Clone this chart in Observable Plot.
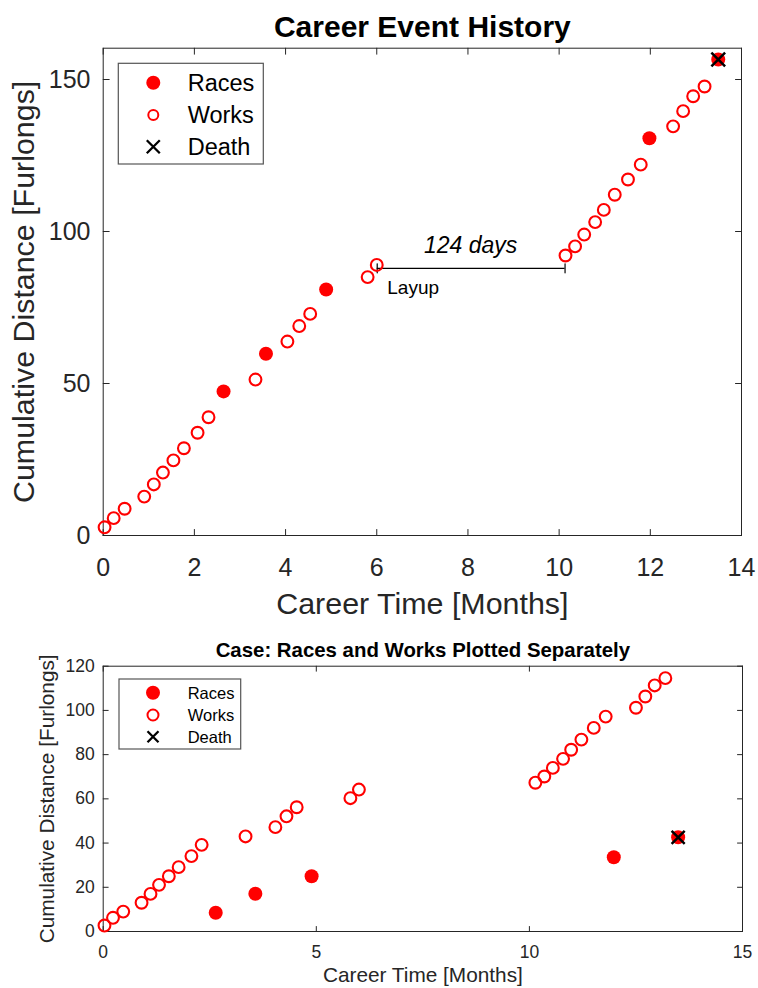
<!DOCTYPE html>
<html>
<head>
<meta charset="utf-8">
<script src="https://cdn.jsdelivr.net/npm/d3@7"></script>
<script src="https://cdn.jsdelivr.net/npm/@observablehq/plot@0.6"></script>
<style>
  html, body { margin: 0; padding: 0; background: #fff; }
  #page { position: relative; width: 758px; height: 988px; overflow: hidden; background: #fff; }
  .chart { position: absolute; left: 0; }
  #overlay { position: absolute; left: 0; top: 0; pointer-events: none; }
</style>
</head>
<body>
<div id="page">
  <div id="top" class="chart" style="top:0px"></div>
  <div id="bottom" class="chart" style="top:630px"></div>
  <svg id="overlay" width="758" height="988"></svg>
</div>
<script>
// ---------------- data ----------------
// event times in months
const workMonths = [0.03, 0.23, 0.47, 0.90, 1.11, 1.31, 1.54, 1.77, 2.07, 2.31,
                    3.34, 4.04, 4.30, 4.54, 5.80, 6.00,
                    10.14, 10.35, 10.55, 10.79, 10.98, 11.22, 11.51, 11.79,
                    12.50, 12.72, 12.94, 13.19];
const raceMonths = [2.64, 3.57, 4.89, 11.98, 13.49];
const deathMonth = [13.49];

// top chart: cumulative distance of all events combined (furlongs)
const workCumAll = [2.7, 5.7, 8.8, 12.8, 16.8, 20.7, 24.7, 28.7, 33.8, 38.9,
                    51.3, 63.8, 68.9, 72.9, 85.0, 89.0,
                    92.1, 95.1, 99.0, 103.1, 107.1, 112.1, 117.1, 122.0,
                    134.6, 139.6, 144.5, 147.7];
const raceCumAll = [47.4, 59.8, 80.9, 130.7, 156.6];
const deathCumAll = [156.6];

// bottom chart: races and works accumulated separately (furlongs)
const workCumSep = [2.7, 6.2, 9.0, 13.0, 17.0, 21.1, 25.0, 29.1, 34.1, 39.2,
                    43.0, 47.2, 52.1, 56.2, 60.3, 64.2,
                    67.3, 70.1, 74.0, 78.1, 82.2, 86.8, 92.1, 97.2,
                    101.2, 106.3, 111.3, 114.6];
const raceCumSep = [8.5, 17.1, 25.0, 33.6, 42.6];
const deathCumSep = [42.6];

// layup annotation (top chart)
const layupFrom = [6.01];
const layupTo = [10.13];
const layupLevel = [87.9];
const gapLabel = ["124 days"];
const gapLabelX = [8.06];
const gapLabelY = [93.0];
const layupLabel = ["Layup"];
const layupLabelX = [6.23];
const layupLabelY = [79.5];

// ticks
const topXTicks = [0, 2, 4, 6, 8, 10, 12, 14];
const topYTicks = [0, 50, 100, 150];
const botXTicks = [0, 5, 10, 15];
const botYTicks = [0, 20, 40, 60, 80, 100, 120];

// texts
const topTitle = ["Career Event History"];
const botTitle = ["Case: Races and Works Plotted Separately"];
const xLabel = ["Career Time [Months]"];
const yLabel = ["Cumulative Distance [Furlongs]"];
const legendLabels = ["Races", "Works", "Death"];

// ---------------- drawing ----------------
const FONT = "'Liberation Sans', Arial, Helvetica, sans-serif";
const AX = "#262626";
const RED = "#ff0000";
const tickShape = {draw(ctx, l) { ctx.moveTo(0, 0); ctx.lineTo(0, -l); }};

function inwardTicks(xt, yt, len) {
  const o = {length: len, anchor: "start", shape: tickShape, stroke: AX, strokeWidth: 1};
  return [
    Plot.vector(xt, {...o, x: d => d, frameAnchor: "bottom", rotate: 0}),
    Plot.vector(xt, {...o, x: d => d, frameAnchor: "top", rotate: 180}),
    Plot.vector(yt, {...o, y: d => d, frameAnchor: "left", rotate: 90}),
    Plot.vector(yt, {...o, y: d => d, frameAnchor: "right", rotate: -90})
  ];
}

const topChart = Plot.plot({
  width: 758, height: 620,
  marginTop: 47.7, marginRight: 17, marginBottom: 85, marginLeft: 102.7,
  style: {fontFamily: FONT, background: "white", color: AX, overflow: "visible"},
  x: {domain: [0, 14]},
  y: {domain: [0, 160.3]},
  marks: [
    Plot.frame({stroke: AX, strokeWidth: 1}),
    ...inwardTicks(topXTicks, topYTicks, 6),
    Plot.axisX(topXTicks, {anchor: "bottom", tickSize: 0, tickPadding: 22.3, fontSize: 25, label: null, fill: AX}),
    Plot.axisY(topYTicks, {anchor: "left", tickSize: 0, tickPadding: 12.7, fontSize: 25, label: null, fill: AX}),
    Plot.ruleY(layupLevel, {y: d => d, x1: layupFrom[0], x2: layupTo[0], stroke: "black", strokeWidth: 1.2}),
    Plot.vector([layupFrom[0], layupTo[0]], {x: d => d, y: layupLevel[0], length: 9, anchor: "middle", shape: tickShape, stroke: "black", strokeWidth: 1.2}),
    Plot.text(gapLabel, {x: gapLabelX, y: gapLabelY, text: d => d, fontSize: 23, fontStyle: "italic", lineAnchor: "bottom", textAnchor: "middle", fill: "black"}),
    Plot.text(layupLabel, {x: layupLabelX, y: layupLabelY, text: d => d, fontSize: 19, lineAnchor: "bottom", textAnchor: "start", fill: "black"}),
    Plot.dot(workMonths, {x: d => d, y: (d, i) => workCumAll[i], r: 5.9, fill: "none", stroke: RED, strokeWidth: 2.1}),
    Plot.dot(raceMonths, {x: d => d, y: (d, i) => raceCumAll[i], r: 7, fill: RED, stroke: "none"}),
    Plot.dot(deathMonth, {x: d => d, y: (d, i) => deathCumAll[i], r: 6.3, symbol: "times", stroke: "black", strokeWidth: 2.5}),
    Plot.text(topTitle, {frameAnchor: "top", text: d => d, dy: -11.7, lineAnchor: "bottom", textAnchor: "middle", fontSize: 30, fontWeight: "bold", fill: "black"}),
    Plot.text(xLabel, {frameAnchor: "bottom", text: d => d, dy: 78.3, lineAnchor: "bottom", textAnchor: "middle", fontSize: 30.4, fill: AX}),
    Plot.text(yLabel, {frameAnchor: "left", text: d => d, dx: -69.4, rotate: -90, lineAnchor: "bottom", textAnchor: "middle", fontSize: 30.4, fill: AX})
  ]
});
document.getElementById("top").appendChild(topChart);

const botChart = Plot.plot({
  width: 758, height: 358,
  marginTop: 35.7, marginRight: 16, marginBottom: 57, marginLeft: 102.7,
  style: {fontFamily: FONT, background: "white", color: AX, overflow: "visible"},
  x: {domain: [0, 15]},
  y: {domain: [0, 120]},
  marks: [
    Plot.frame({stroke: AX, strokeWidth: 1}),
    ...inwardTicks(botXTicks, botYTicks, 5),
    Plot.axisX(botXTicks, {anchor: "bottom", tickSize: 0, tickPadding: 14, fontSize: 17.5, label: null, fill: AX}),
    Plot.axisY(botYTicks, {anchor: "left", tickSize: 0, tickPadding: 8.4, fontSize: 17.5, label: null, fill: AX}),
    Plot.dot(workMonths, {x: d => d, y: (d, i) => workCumSep[i], r: 5.9, fill: "none", stroke: RED, strokeWidth: 2.1}),
    Plot.dot(raceMonths, {x: d => d, y: (d, i) => raceCumSep[i], r: 7, fill: RED, stroke: "none"}),
    Plot.dot(deathMonth, {x: d => d, y: (d, i) => deathCumSep[i], r: 6, symbol: "times", stroke: "black", strokeWidth: 2.5}),
    Plot.text(botTitle, {frameAnchor: "top", text: d => d, dy: -9, lineAnchor: "bottom", textAnchor: "middle", fontSize: 20.4, fontWeight: "bold", fill: "black"}),
    Plot.text(xLabel, {frameAnchor: "bottom", text: d => d, dy: 50.7, lineAnchor: "bottom", textAnchor: "middle", fontSize: 20.8, fill: AX}),
    Plot.text(yLabel, {frameAnchor: "left", text: d => d, dx: -49.2, rotate: -90, lineAnchor: "bottom", textAnchor: "middle", fontSize: 20.8, fill: AX})
  ]
});
document.getElementById("bottom").appendChild(botChart);

// ---------------- legends (overlay) ----------------
function drawLegend(svg, box, rowsY, markX, textX, fs, rFill, rOpen, xHalf) {
  const g = svg.append("g").attr("font-family", FONT);
  g.append("rect").attr("x", box.x).attr("y", box.y).attr("width", box.w).attr("height", box.h)
    .attr("fill", "white").attr("stroke", "#555").attr("stroke-width", 1.2);
  g.append("circle").attr("cx", markX).attr("cy", rowsY[0]).attr("r", rFill).attr("fill", RED);
  g.append("circle").attr("cx", markX).attr("cy", rowsY[1]).attr("r", rOpen).attr("fill", "none").attr("stroke", RED).attr("stroke-width", 2);
  g.append("path").attr("d", `M${markX - xHalf},${rowsY[2] - xHalf}L${markX + xHalf},${rowsY[2] + xHalf}M${markX - xHalf},${rowsY[2] + xHalf}L${markX + xHalf},${rowsY[2] - xHalf}`)
    .attr("stroke", "black").attr("stroke-width", 2.3).attr("fill", "none");
  legendLabels.forEach((t, i) => {
    g.append("text").attr("x", textX).attr("y", rowsY[i] + 0.358 * fs).attr("font-size", fs).attr("fill", "black").text(t);
  });
}
const overlay = d3.select("#overlay");
drawLegend(overlay, {x: 118.3, y: 63.3, w: 145, h: 100.7}, [82.7, 115, 146.7], 153.3, 187.7, 23.5, 7, 5, 6.5);
drawLegend(overlay, {x: 119, y: 679, w: 121.7, h: 70}, [692.7, 715, 736.7], 153, 187.7, 16.5, 7, 5.5, 5.5);
</script>
</body>
</html>
